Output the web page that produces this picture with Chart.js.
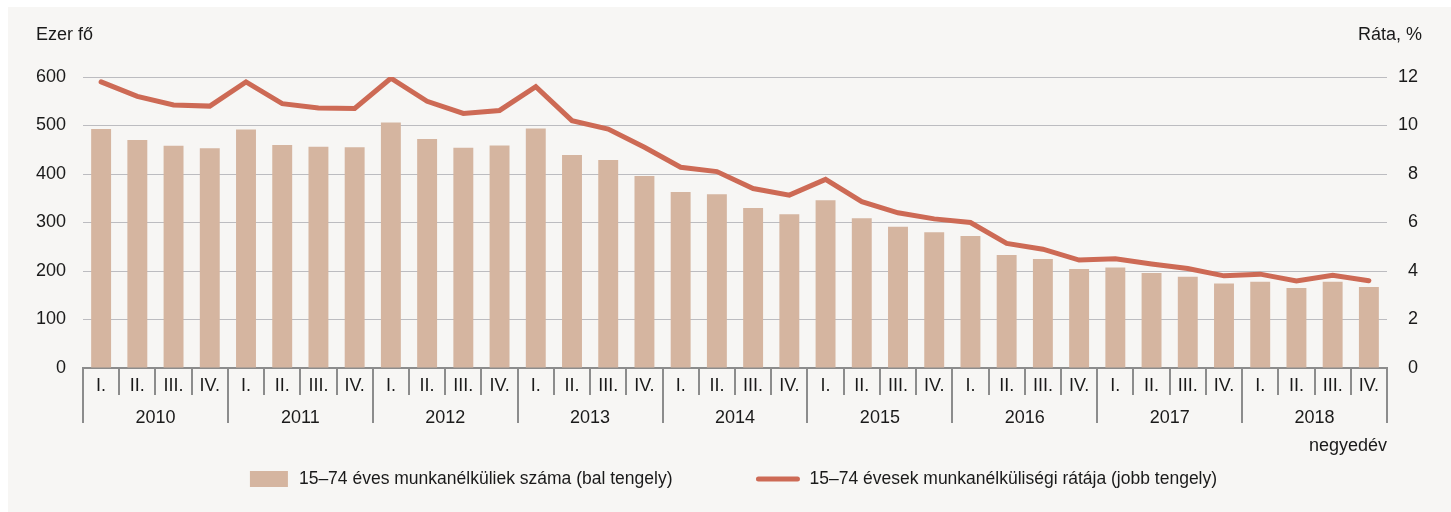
<!DOCTYPE html>
<html>
<head>
<meta charset="utf-8">
<script src="https://cdn.jsdelivr.net/npm/chart.js@4"></script>
<style>
    html, body { margin: 0; padding: 0; background: #ffffff; }
    #wrap { position: absolute; left: 8px; top: 7px; width: 1443px; height: 505px; background: #f7f6f4; }
</style>
</head>
<body>
<div id="wrap"><canvas id="unemploymentChart"></canvas></div>
<script>
const years = ['2010', '2011', '2012', '2013', '2014', '2015', '2016', '2017', '2018'];
const quarterNames = ['I.', 'II.', 'III.', 'IV.'];

// 15-74 eves munkanelkuliek szama, ezer fo
const unemployed = [
    493, 470, 458, 453,
    492, 460, 456, 455,
    506, 472, 454, 459,
    494, 439, 429, 396,
    363, 358, 330, 317,
    346, 309, 291, 280,
    272, 233, 225, 204,
    207, 196, 188, 174,
    178, 165, 178, 167
];

// munkanelkulisegi rata, %
const rate = [
    11.8, 11.2, 10.85, 10.8,
    11.8, 10.9, 10.72, 10.7,
    11.95, 11.0, 10.5, 10.62,
    11.6, 10.2, 9.85, 9.1,
    8.28, 8.1, 7.4, 7.13,
    7.78, 6.86, 6.4, 6.15,
    6.0, 5.14, 4.9, 4.45,
    4.5, 4.29, 4.1, 3.8,
    3.87, 3.59, 3.82, 3.6
];

const leftTicks = [0, 100, 200, 300, 400, 500, 600];
const rightTicks = [0, 2, 4, 6, 8, 10, 12];

const barLabel = '15–74 éves munkanélküliek száma (bal tengely)';
const lineLabel = '15–74 évesek munkanélküliségi rátája (jobb tengely)';

const fontFamily = "'Liberation Sans', Arial, sans-serif";
const textColor = '#1a1a1a';
const barColor = '#d5b5a0';
const lineColor = '#cd6a55';
const axisColor = '#8c8c8c';
const gridColor = '#bcbcc0';

const quarterLabels = years.flatMap(() => quarterNames);

Chart.defaults.font.family = fontFamily;
Chart.defaults.font.size = 18;
Chart.defaults.color = textColor;

// axis titles + legend drawn by hand so the spacing matches
const extras = {
    id: 'extras',
    afterDraw(chart) {
        const ctx = chart.ctx;
        ctx.save();
        ctx.font = '18px ' + fontFamily;
        ctx.fillStyle = textColor;
        ctx.textBaseline = 'middle';
        ctx.textAlign = 'left';
        ctx.fillText('Ezer fő', 28, 28);
        ctx.textAlign = 'right';
        ctx.fillText('Ráta, %', 1414, 28);

        // legend row
        ctx.font = '17.5px ' + fontFamily;
        const w1 = ctx.measureText(barLabel).width;
        const w2 = ctx.measureText(lineLabel).width;
        const total = 38 + 11 + w1 + 84 + 43 + 10 + w2;
        let x = (chart.width - total) / 2 + 4;
        const y = 472;
        ctx.fillStyle = barColor;
        ctx.fillRect(x, y - 8, 38, 16);
        x += 38 + 11;
        ctx.fillStyle = textColor;
        ctx.textAlign = 'left';
        ctx.fillText(barLabel, x, y);
        x += w1 + 84;
        ctx.strokeStyle = lineColor;
        ctx.lineWidth = 5;
        ctx.lineCap = 'round';
        ctx.beginPath();
        ctx.moveTo(x + 2, y);
        ctx.lineTo(x + 41, y);
        ctx.stroke();
        x += 43 + 10;
        ctx.fillText(lineLabel, x, y);
        ctx.restore();
    }
};

const ctx = document.getElementById('unemploymentChart').getContext('2d');
const unemploymentChart = new Chart(ctx, {
    type: 'bar',
    data: {
        labels: quarterLabels,
        datasets: [{
            type: 'bar',
            label: barLabel,
            data: unemployed,
            backgroundColor: barColor,
            borderWidth: 0,
            barPercentage: 0.55,
            categoryPercentage: 1.0,
            yAxisID: 'y',
            order: 1
        }, {
            type: 'line',
            label: lineLabel,
            data: rate,
            borderColor: lineColor,
            backgroundColor: lineColor,
            borderWidth: 5,
            borderCapStyle: 'round',
            pointRadius: 0,
            tension: 0,
            yAxisID: 'y1',
            order: 0
        }]
    },
    options: {
        responsive: true,
        maintainAspectRatio: false,
        animation: false,
        layout: {
            padding: { left: 0, right: 33, top: 70, bottom: 55 }
        },
        scales: {
            x: {
                offset: true,
                grid: {
                    offset: true,
                    drawOnChartArea: false,
                    tickLength: 27,
                    color: axisColor,
                    lineWidth: 2
                },
                border: { color: axisColor, width: 2 },
                ticks: { padding: -20, autoSkip: false, maxRotation: 0 },
                afterFit: function(scale) { scale.height = 27; }
            },
            x2: {
                type: 'category',
                labels: years,
                position: 'bottom',
                offset: true,
                grid: {
                    offset: true,
                    drawOnChartArea: false,
                    tickLength: 28,
                    color: axisColor,
                    lineWidth: 2
                },
                border: { display: false },
                ticks: { padding: -15.5, autoSkip: false, maxRotation: 0 },
                title: {
                    display: true,
                    text: 'negyedév',
                    align: 'end',
                    padding: 0,
                    color: textColor
                },
                afterFit: function(scale) { scale.height = 62; }
            },
            y: {
                position: 'left',
                min: leftTicks[0],
                max: leftTicks[leftTicks.length - 1],
                ticks: { stepSize: 100, padding: 17 },
                grid: { color: gridColor, drawTicks: false },
                border: { display: false },
                afterFit: function(scale) { scale.width = 75; }
            },
            y1: {
                position: 'right',
                min: rightTicks[0],
                max: rightTicks[rightTicks.length - 1],
                ticks: { stepSize: 2, padding: 15, crossAlign: 'far' },
                grid: { drawOnChartArea: false, drawTicks: false },
                border: { display: false },
                afterFit: function(scale) { scale.width = 31; }
            }
        },
        plugins: {
            legend: { display: false },
            tooltip: { enabled: false }
        }
    },
    plugins: [extras]
});
</script>
</body>
</html>
